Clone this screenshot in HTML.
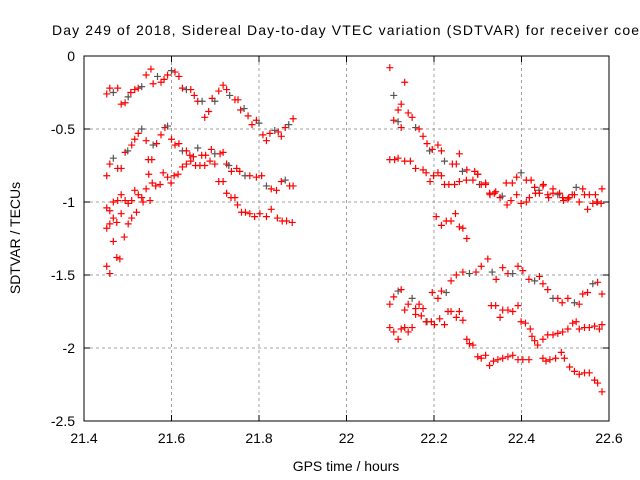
<!DOCTYPE html>
<html><head><meta charset="utf-8"><style>
html,body{margin:0;padding:0;background:#fff;}
svg{display:block;font-family:"Liberation Sans",sans-serif;}
</style></head><body>
<svg id="chart" width="640" height="480" xmlns="http://www.w3.org/2000/svg">
<rect width="640" height="480" fill="#fff"/>
<text x="52" y="35" font-size="14" textLength="596" lengthAdjust="spacing" fill="#000">Day 249 of 2018, Sidereal Day-to-day VTEC variation (SDTVAR) for receiver coen</text>
<g id="grid"></g>
<g id="ticks"></g>
<g id="marks"></g>
<rect x="84" y="56" width="525" height="365" fill="none" stroke="#000" stroke-width="1"/>
<text x="346" y="471" font-size="14" text-anchor="middle">GPS time / hours</text>
<text transform="translate(20,238) rotate(-90)" font-size="14" text-anchor="middle">SDTVAR / TECUs</text>
</svg>
<script>
const xTicks=[21.4,21.6,21.8,22,22.2,22.4,22.6];
const xTickLabels=["21.4","21.6","21.8","22","22.2","22.4","22.6"];
const yTicks=[0,-0.5,-1,-1.5,-2,-2.5];
const yTickLabels=["0","-0.5","-1","-1.5","-2","-2.5"];

const aX=[21.452,21.459,21.467,21.477,21.485,21.494,21.501,21.507,21.516,21.524,21.532,21.542,21.553,21.558,21.568,21.576,21.583,21.591,21.600,21.608,21.617,21.625,21.634,21.644,21.652,21.660,21.670,21.676,21.685,21.693,21.699,21.708,21.718,21.726,21.733,21.745,21.752,21.758,21.766,21.775,21.784,21.794,21.800,21.809,21.817,21.825,21.836,21.844,21.851,21.860,21.868,21.878];
const aY=[-0.26,-0.22,-0.25,-0.22,-0.33,-0.32,-0.28,-0.25,-0.23,-0.22,-0.21,-0.13,-0.09,-0.19,-0.14,-0.18,-0.16,-0.13,-0.1,-0.11,-0.14,-0.22,-0.23,-0.23,-0.27,-0.31,-0.31,-0.42,-0.38,-0.29,-0.31,-0.24,-0.2,-0.23,-0.27,-0.3,-0.3,-0.37,-0.36,-0.41,-0.47,-0.44,-0.46,-0.54,-0.58,-0.53,-0.51,-0.52,-0.55,-0.49,-0.47,-0.43];

const b1X=[21.452,21.459,21.467,21.477,21.485,21.494,21.500,21.509,21.516,21.524,21.532,21.542,21.547,21.555,21.558,21.566,21.576,21.585,21.591,21.600,21.608,21.617,21.625,21.634,21.642,21.650,21.660,21.669,21.678,21.691,21.699,21.711,21.718,21.726,21.731,21.737,21.749,21.756,21.768,21.779,21.794,21.806,21.817,21.828,21.840,21.851,21.860,21.870,21.878];
const b1Y=[-0.82,-0.74,-0.7,-0.77,-0.77,-0.66,-0.65,-0.61,-0.57,-0.53,-0.5,-0.58,-0.71,-0.71,-0.61,-0.6,-0.54,-0.49,-0.48,-0.57,-0.61,-0.6,-0.65,-0.65,-0.68,-0.69,-0.63,-0.68,-0.68,-0.64,-0.67,-0.67,-0.66,-0.74,-0.75,-0.79,-0.77,-0.79,-0.82,-0.82,-0.83,-0.82,-0.89,-0.91,-0.92,-0.86,-0.85,-0.89,-0.89];

const b2X=[21.452,21.459,21.467,21.477,21.485,21.494,21.501,21.509,21.516,21.524,21.532,21.542,21.548,21.556,21.564,21.574,21.581,21.591,21.599,21.606,21.615,21.625,21.634,21.644,21.655,21.665,21.676,21.688,21.699,21.708,21.718,21.726,21.736,21.745,21.751,21.760,21.769,21.779,21.790,21.802,21.817,21.828,21.842,21.853,21.863,21.876];
const b2Y=[-1.04,-1.06,-1.0,-0.99,-0.95,-0.99,-1.01,-0.99,-0.92,-0.95,-0.97,-0.91,-0.81,-0.87,-0.89,-0.88,-0.8,-0.83,-0.87,-0.82,-0.81,-0.76,-0.74,-0.72,-0.75,-0.75,-0.75,-0.72,-0.74,-0.86,-0.86,-0.94,-0.97,-0.97,-1.02,-1.07,-1.07,-1.08,-1.1,-1.08,-1.1,-1.05,-1.11,-1.13,-1.13,-1.14];

const cX=[21.452,21.459,21.467,21.475,21.485,21.501,21.509,21.520,21.535,21.551,21.452,21.459,21.467,21.475,21.482,21.492];
const cY=[-1.18,-1.15,-1.11,-1.14,-1.08,-1.15,-1.11,-1.07,-1.0,-0.99,-1.44,-1.49,-1.27,-1.38,-1.39,-1.24];

const r1X=[22.099,22.133,22.108,22.118,22.125,22.108,22.118,22.125,22.141,22.150,22.158,22.166,22.175,22.184,22.190,22.196,22.209,22.217,22.224,22.242,22.251,22.258,22.265,22.275,22.293,22.300,22.304,22.318,22.328,22.341,22.356,22.365,22.379,22.389,22.399,22.411,22.422,22.430,22.440,22.449,22.462,22.472,22.483,22.494,22.506,22.516,22.525,22.540,22.551,22.563,22.574,22.584];
const r1Y=[-0.08,-0.18,-0.27,-0.37,-0.33,-0.44,-0.45,-0.49,-0.39,-0.42,-0.49,-0.5,-0.55,-0.6,-0.65,-0.64,-0.61,-0.65,-0.72,-0.74,-0.74,-0.67,-0.79,-0.78,-0.79,-0.81,-0.88,-0.88,-0.95,-0.93,-0.96,-0.87,-0.87,-0.83,-0.8,-0.85,-0.85,-0.9,-0.92,-0.89,-0.97,-0.91,-0.95,-0.97,-0.98,-0.95,-0.9,-0.91,-1.05,-1.01,-1.0,-0.91];

const r2X=[22.099,22.110,22.118,22.133,22.146,22.158,22.175,22.182,22.191,22.199,22.209,22.217,22.224,22.234,22.247,22.258,22.274,22.289,22.300,22.308,22.318,22.327,22.338,22.351,22.367,22.376,22.389,22.399,22.411,22.418,22.432,22.441,22.450,22.460,22.472,22.487,22.496,22.508,22.521,22.532,22.544,22.555,22.569,22.572,22.582];
const r2Y=[-0.71,-0.71,-0.7,-0.72,-0.72,-0.77,-0.78,-0.8,-0.86,-0.82,-0.8,-0.82,-0.88,-0.88,-0.88,-0.86,-0.85,-0.85,-0.81,-0.88,-0.87,-0.94,-0.94,-0.97,-1.02,-0.99,-0.95,-1.01,-1.0,-0.97,-0.94,-0.94,-0.88,-0.95,-0.94,-0.94,-0.99,-0.97,-0.95,-1.0,-0.95,-0.95,-0.95,-1.0,-1.01];

const r3X=[22.205,22.217,22.228,22.239,22.249,22.258,22.266,22.275];
const r3Y=[-1.1,-1.16,-1.13,-1.13,-1.08,-1.17,-1.18,-1.25];

const l1X=[22.099,22.108,22.118,22.125,22.133,22.141,22.150,22.158,22.166,22.175,22.184,22.196,22.209,22.217,22.228,22.239,22.251,22.266,22.281,22.296,22.308,22.323,22.333,22.342,22.357,22.369,22.380,22.392,22.403,22.417,22.430,22.441,22.449,22.460,22.472,22.483,22.493,22.506,22.521,22.532,22.540,22.551,22.563,22.574,22.584];
const l1Y=[-1.7,-1.65,-1.61,-1.6,-1.74,-1.7,-1.66,-1.73,-1.7,-1.73,-1.82,-1.62,-1.66,-1.61,-1.62,-1.54,-1.5,-1.48,-1.49,-1.48,-1.44,-1.39,-1.48,-1.53,-1.45,-1.49,-1.49,-1.44,-1.47,-1.53,-1.54,-1.51,-1.56,-1.6,-1.66,-1.66,-1.69,-1.66,-1.69,-1.7,-1.63,-1.62,-1.56,-1.55,-1.63];

const l2X=[22.099,22.108,22.118,22.125,22.133,22.141,22.150,22.158,22.171,22.182,22.194,22.201,22.213,22.224,22.232,22.239,22.251,22.258,22.266,22.275,22.281,22.289,22.300,22.308,22.318,22.327,22.336,22.346,22.357,22.369,22.380,22.392,22.403,22.417,22.449,22.456,22.465,22.478,22.491,22.498,22.510,22.521,22.532,22.544,22.555,22.567,22.574,22.584];
const l2Y=[-1.86,-1.89,-1.94,-1.87,-1.86,-1.89,-1.86,-1.77,-1.78,-1.82,-1.82,-1.84,-1.8,-1.84,-1.75,-1.75,-1.79,-1.75,-1.81,-1.94,-1.97,-1.98,-2.06,-2.07,-2.05,-2.12,-2.09,-2.08,-2.07,-2.06,-2.05,-2.08,-2.08,-2.08,-2.07,-2.09,-2.08,-2.07,-2.03,-2.07,-2.13,-2.16,-2.18,-2.17,-2.17,-2.22,-2.24,-2.3];

const l3X=[22.331,22.341,22.351,22.357,22.369,22.380,22.392,22.399,22.409,22.420,22.424,22.430,22.437,22.449,22.460,22.472,22.483,22.494,22.506,22.517,22.525,22.532,22.544,22.555,22.567,22.578,22.584];
const l3Y=[-1.71,-1.71,-1.79,-1.74,-1.74,-1.75,-1.71,-1.82,-1.83,-1.87,-1.92,-1.95,-1.98,-1.94,-1.91,-1.91,-1.9,-1.89,-1.87,-1.83,-1.82,-1.87,-1.86,-1.86,-1.85,-1.87,-1.84];

const L=84,R=609,T=56,B=421,X0=21.4,X1=22.6,Y0=-2.5,Y1=0;
function sx(v){return L+(v-X0)/(X1-X0)*(R-L);}
function sy(v){return B-(v-Y0)/(Y1-Y0)*(B-T);}
const NS="http://www.w3.org/2000/svg";
const grid=document.getElementById('grid'),ticks=document.getElementById('ticks'),marks=document.getElementById('marks');
function mk(tag,attrs,parent){const e=document.createElementNS(NS,tag);for(const k in attrs)e.setAttribute(k,attrs[k]);parent.appendChild(e);return e;}

xTicks.forEach((t,i)=>{
  const x=sx(t);
  if(i>0&&i<xTicks.length-1){
    const g=mk('line',{x1:x,y1:T,x2:x,y2:B,stroke:'#a0a0a0','stroke-dasharray':'3,3','stroke-width':1},grid);
    
    
  }
  const t1=mk('line',{x1:x,y1:B,x2:x,y2:B-6,stroke:'#000'},ticks);
  
  
  const t2=mk('line',{x1:x,y1:T,x2:x,y2:T+6,stroke:'#000'},ticks);
  
  
  const lb=mk('text',{x:x,y:B+22,'font-size':14,'text-anchor':'middle'},ticks);
  lb.textContent=xTickLabels[i];
  
  
});
yTicks.forEach((t,i)=>{
  const y=sy(t);
  if(i>0&&i<yTicks.length-1){
    const g=mk('line',{x1:L,y1:y,x2:R,y2:y,stroke:'#a0a0a0','stroke-dasharray':'3,3','stroke-width':1},grid);
    
    
  }
  const t1=mk('line',{x1:L,y1:y,x2:L+6,y2:y,stroke:'#000'},ticks);
  
  
  const t2=mk('line',{x1:R,y1:y,x2:R-6,y2:y,stroke:'#000'},ticks);
  
  
  const lb=mk('text',{x:L-9,y:y+5,'font-size':14,'text-anchor':'end'},ticks);
  lb.textContent=yTickLabels[i];
  
  
});
const series=[[aX,aY,true],[b1X,b1Y,true],[b2X,b2Y,false],[cX,cY,false],[r1X,r1Y,true],[r2X,r2Y,false],[r3X,r3Y,false],[l1X,l1Y,true],[l2X,l2Y,false],[l3X,l3Y,false]];
series.forEach(([xs,ys,mixed])=>{
  xs.forEach((xv,i)=>{
    const x=sx(xv),y=sy(ys[i]);
    const col=(mixed&&i%4===2)?'#555555':'#ff0000';
    const p=mk('path',{d:`M${x-3.5},${y}H${x+3.5}M${x},${y-3.5}V${y+3.5}`,stroke:col,'stroke-width':1.2,fill:'none'},marks);
    
    
  });
});
</script>
</body></html>
